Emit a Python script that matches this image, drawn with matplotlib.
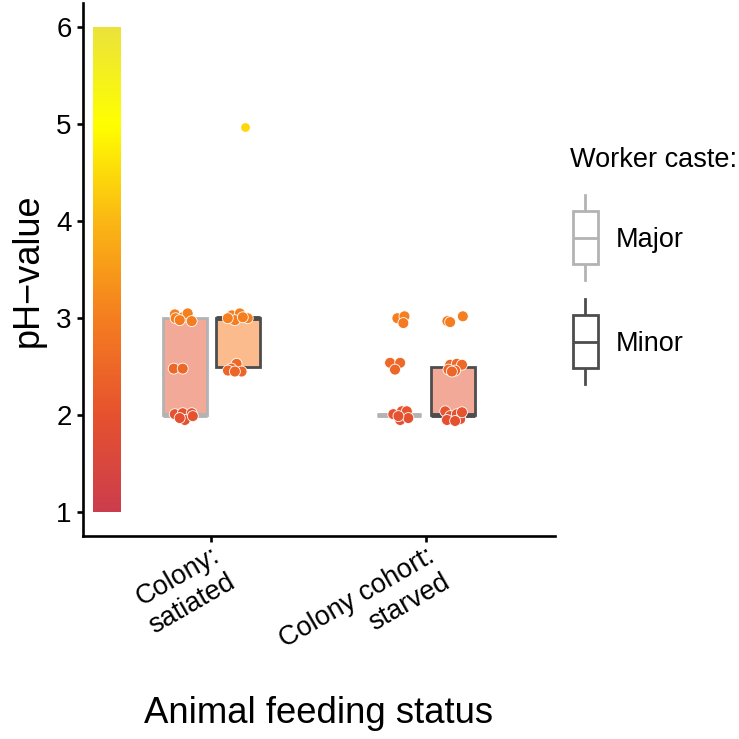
import matplotlib
matplotlib.use("Agg")
import matplotlib.pyplot as plt
import numpy as np
from matplotlib.colors import LinearSegmentedColormap
from matplotlib.legend_handler import HandlerBase
from matplotlib.patches import Patch, Rectangle
from matplotlib.lines import Line2D

plt.rcParams['font.family'] = ['Liberation Sans', 'DejaVu Sans']

# categories and groups
categories = ['Colony:\nsatiated', 'Colony cohort:\nstarved']
castes = ['Major', 'Minor']

# box statistics per (category, caste): q1, median, q3
box_cat = [1, 1, 2, 2]
box_caste = ['Major', 'Minor', 'Major', 'Minor']
box_q1 = [2.0, 2.5, 2.0, 2.0]
box_med = [2.0, 3.0, 2.0, 2.0]
box_q3 = [3.0, 3.0, 2.0, 2.5]
box_fill = ['#F2A997', '#FBBB8C', '#F2A997', '#F2A997']

# jittered points (x jitter relative to group centre)
sat_major_dx = [-0.046, -0.009, 0.014, 0.033, -0.042, -0.023, -0.051, -0.009,
                -0.046, -0.009, 0.033, 0.001, 0.038, -0.023]
sat_major_y = [3.04, 3.01, 3.05, 2.97, 3.00, 2.98, 2.48, 2.48,
               2.01, 2.02, 2.02, 1.95, 1.99, 1.97]
sat_minor_dx = [-0.030, 0.007, -0.016, 0.044, -0.049, 0.021,
                -0.008, -0.032, -0.048, 0.015, -0.016]
sat_minor_y = [3.03, 3.05, 2.98, 3.00, 3.00, 3.01,
               2.53, 2.48, 2.46, 2.45, 2.45]
stv_major_dx = [-0.009, 0.024, 0.019, -0.043, 0.004, -0.020,
                -0.028, 0.012, 0.035, 0.004, 0.042, -0.004]
stv_major_y = [3.00, 3.02, 2.95, 2.54, 2.54, 2.47,
               2.01, 2.04, 2.04, 1.95, 1.97, 1.99]
stv_minor_dx = [-0.026, -0.013, 0.046, -0.013, 0.018, 0.042, 0.010, -0.021,
                -0.005, -0.036, -0.013, 0.018, 0.034, -0.028, 0.010, 0.042]
stv_minor_y = [2.97, 2.96, 3.02, 2.52, 2.53, 2.52, 2.46, 2.47,
               2.45, 2.04, 1.99, 2.01, 1.96, 1.95, 1.94, 2.03]

# the lone high value (satiated, minor)
outlier_dx = [0.030]
outlier_y = [4.97]

# colour scale for pH
ph_range = [1, 6]
ph_colors = ['#CC3D4D', '#E6522F', '#F57E20', '#FBB714', '#FFFF00', '#EBE33B']

edge_col = {'Major': '#B3B3B3', 'Minor': '#4D4D4D'}
dodge = {'Major': -0.125, 'Minor': 0.125}


class BoxKeyHandler(HandlerBase):
    """Draw a small boxplot glyph as legend key (sizes in points)."""

    def create_artists(self, legend, orig_handle, xdescent, ydescent,
                       width, height, fontsize, trans):
        col = orig_handle.get_edgecolor()
        x0 = -xdescent
        yc = 0.35 * fontsize
        half_all, half_box = 30.6, 19.1
        xm = x0 + width / 2
        box = Rectangle((x0, yc - half_box), width, 2 * half_box,
                        fc='white', ec=col, lw=2, transform=trans)
        med = Line2D([x0, x0 + width], [yc, yc], color=col, lw=2,
                     solid_capstyle='butt', transform=trans)
        w1 = Line2D([xm, xm], [yc - half_all, yc - half_box], color=col,
                    lw=2, transform=trans)
        w2 = Line2D([xm, xm], [yc + half_box, yc + half_all], color=col,
                    lw=2, transform=trans)
        return [w1, w2, box, med]


def main():
    cmap = LinearSegmentedColormap.from_list('ph', ph_colors)

    fig = plt.figure(figsize=(7.39, 7.39), dpi=100)
    ax = fig.add_axes([0.1119, 0.2743, 0.639, 0.7213])

    # colour bar drawn inside the panel
    grad = np.linspace(ph_range[0], ph_range[1], 256).reshape(-1, 1)
    ax.imshow(grad, cmap=cmap, vmin=ph_range[0], vmax=ph_range[1],
              origin='lower', aspect='auto',
              extent=(0.4475, 0.5754, ph_range[0], ph_range[1]), zorder=1)

    # boxes
    for i in range(len(box_cat)):
        pos = box_cat[i] + dodge[box_caste[i]]
        stats = [dict(q1=box_q1[i], med=box_med[i], q3=box_q3[i],
                      whislo=box_q1[i], whishi=box_q3[i], fliers=[])]
        col = edge_col[box_caste[i]]
        ax.bxp(stats, positions=[pos], widths=0.205, patch_artist=True,
               showcaps=False, showfliers=False, manage_ticks=False,
               boxprops=dict(facecolor=box_fill[i], edgecolor=col, lw=2.0),
               medianprops=dict(color=col, lw=3.5, solid_capstyle='butt'),
               whiskerprops=dict(color=col, lw=2.0), zorder=2)

    # jittered points
    groups = [(1, 'Major', sat_major_dx, sat_major_y),
              (1, 'Minor', sat_minor_dx, sat_minor_y),
              (2, 'Major', stv_major_dx, stv_major_y),
              (2, 'Minor', stv_minor_dx, stv_minor_y)]
    for cat, caste, dx, yy in groups:
        xx = cat + dodge[caste] + np.array(dx)
        ax.scatter(xx, yy, c=yy, cmap=cmap, vmin=ph_range[0],
                   vmax=ph_range[1], s=62, edgecolors='white',
                   linewidths=0.6, zorder=3)
    ax.scatter(1 + dodge['Minor'] + np.array(outlier_dx), outlier_y,
               color='#FFD60A', s=40, linewidths=0, zorder=3)

    ax.set_xlim(0.4, 2.6)
    ax.set_ylim(0.75, 6.25)
    ax.set_yticks([1, 2, 3, 4, 5, 6])
    ax.set_xticks([1, 2])
    ax.set_xticklabels(categories, rotation=30, ha='right', va='top',
                       rotation_mode='anchor', multialignment='right',
                       fontsize=19.5)
    ax.tick_params(axis='y', labelsize=20, pad=3.6)
    ax.tick_params(axis='x', pad=0.5)
    ax.tick_params(length=4.3, width=1.9, color='black')
    for s in ['top', 'right']:
        ax.spines[s].set_visible(False)
    for s in ['left', 'bottom']:
        ax.spines[s].set_linewidth(1.9)

    ax.set_xlabel('Animal feeding status', fontsize=26.3)
    ax.xaxis.set_label_coords(0.5, -0.30)
    ax.set_ylabel('pH\u2212value', fontsize=26)
    ax.yaxis.set_label_coords(-0.078, 0.5)

    # legend (title set apart for tighter control of spacing)
    fig.text(570 / 739, 1 - 167 / 739, 'Worker caste:', fontsize=19.5,
             ha='left', va='baseline')
    handles = [Patch(edgecolor=edge_col[c], facecolor='white') for c in castes]
    fig.legend(handles, castes, handler_map={Patch: BoxKeyHandler()},
               loc='upper left', bbox_to_anchor=(573 / 739, 1 - 208 / 739),
               frameon=False, fontsize=19.5, borderpad=0,
               borderaxespad=0, handlelength=0.92, handleheight=3.2,
               labelspacing=1.51, handletextpad=0.67)

    plt.savefig('out.png', dpi=100)


main()
